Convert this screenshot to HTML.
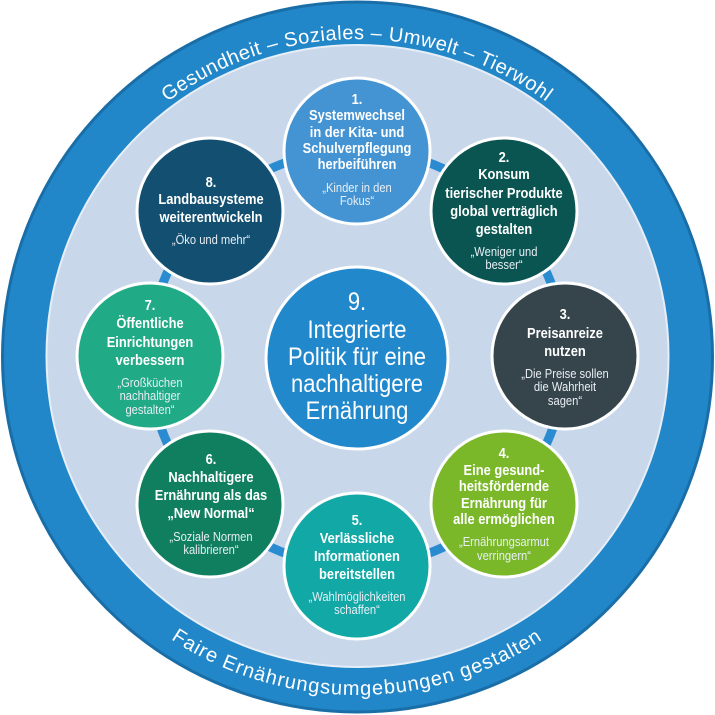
<!DOCTYPE html>
<html><head><meta charset="utf-8"><style>
html,body{margin:0;padding:0;background:#fff;width:715px;height:715px;overflow:hidden}
svg{display:block}
.t{font-family:"Liberation Sans Narrow","Liberation Sans",sans-serif;font-weight:bold;font-size:15px;fill:#fff;text-anchor:middle}
.q{font-family:"Liberation Sans Narrow","Liberation Sans",sans-serif;font-size:13px;fill:#e8eef4;text-anchor:middle}
.c{font-family:"Liberation Sans Narrow","Liberation Sans",sans-serif;font-size:25px;fill:#fff;text-anchor:middle}
.r{font-family:"Liberation Sans","DejaVu Sans",sans-serif;font-size:20px;fill:#fff;letter-spacing:0.5px}
</style></head><body>
<svg width="715" height="715" viewBox="0 0 715 715" xmlns="http://www.w3.org/2000/svg">
<defs>
<path id="top" d="M 39 357 A 318 318 0 0 1 675 357"/>
<path id="bot" d="M 19 357 A 338 338 0 0 0 695 357"/>
</defs>
<circle cx="357.5" cy="357" r="355" fill="#2287c9" stroke="#1a6ea8" stroke-width="3"/>
<circle cx="357.5" cy="356" r="311" fill="#c9d7ea" stroke="#e6eef7" stroke-width="2"/>
<text class="r"><textPath href="#top" startOffset="50%" text-anchor="middle">Gesundheit – Soziales – Umwelt – Tierwohl</textPath></text>
<text class="r" style="letter-spacing:1px"><textPath href="#bot" startOffset="50%" text-anchor="middle">Faire Ernährungsumgebungen gestalten</textPath></text>
<circle cx="357" cy="358" r="208" fill="none" stroke="#2a8bd0" stroke-width="9"/>
<g stroke="#fff" stroke-width="3">
<circle cx="357" cy="358" r="91" fill="#2288cc"/>
<circle cx="357" cy="151" r="73" fill="#4494d4"/>
<circle cx="504" cy="211" r="73" fill="#0a5552"/>
<circle cx="565" cy="356" r="73" fill="#36454c"/>
<circle cx="504" cy="504" r="73" fill="#7ab82a"/>
<circle cx="357" cy="566" r="73" fill="#11a8a6"/>
<circle cx="210" cy="504" r="73" fill="#0f7f60"/>
<circle cx="150" cy="356" r="73" fill="#20aa85"/>
<circle cx="210" cy="211" r="73" fill="#134f70"/>
</g>
<!-- 1 -->
<g transform="translate(357,0) scale(0.86,1) translate(-357,0)">
<text class="t" x="357" y="104">1.</text>
<text class="t" x="357" y="120">Systemwechsel</text>
<text class="t" x="357" y="137">in der Kita-  und</text>
<text class="t" x="357" y="153">Schulverpflegung</text>
<text class="t" x="357" y="169">herbeiführen</text>
<text class="q" x="357" y="192">„Kinder in den</text>
<text class="q" x="357" y="205">Fokus“</text>
</g>
<!-- 2 -->
<g transform="translate(504,0) scale(0.86,1) translate(-504,0)">
<text class="t" x="504" y="162">2.</text>
<text class="t" x="504" y="179">Konsum</text>
<text class="t" x="504" y="198">tierischer Produkte</text>
<text class="t" x="504" y="216">global verträglich</text>
<text class="t" x="504" y="234">gestalten</text>
<text class="q" x="504" y="256">„Weniger und</text>
<text class="q" x="504" y="269">besser“</text>
</g>
<!-- 3 -->
<g transform="translate(565,0) scale(0.86,1) translate(-565,0)">
<text class="t" x="565" y="319">3.</text>
<text class="t" x="565" y="338">Preisanreize</text>
<text class="t" x="565" y="356">nutzen</text>
<text class="q" x="565" y="378">„Die Preise sollen</text>
<text class="q" x="565" y="391">die Wahrheit</text>
<text class="q" x="565" y="405">sagen“</text>
</g>
<!-- 4 -->
<g transform="translate(504,0) scale(0.86,1) translate(-504,0)">
<text class="t" x="504" y="458">4.</text>
<text class="t" x="504" y="475">Eine gesund-</text>
<text class="t" x="504" y="491">heitsfördernde</text>
<text class="t" x="504" y="508">Ernährung für</text>
<text class="t" x="504" y="524">alle ermöglichen</text>
<text class="q" x="504" y="546">„Ernährungsarmut</text>
<text class="q" x="504" y="560">verringern“</text>
</g>
<!-- 5 -->
<g transform="translate(357,0) scale(0.86,1) translate(-357,0)">
<text class="t" x="357" y="525">5.</text>
<text class="t" x="357" y="543">Verlässliche</text>
<text class="t" x="357" y="561">Informationen</text>
<text class="t" x="357" y="579">bereitstellen</text>
<text class="q" x="357" y="601">„Wahlmöglichkeiten</text>
<text class="q" x="357" y="614">schaffen“</text>
</g>
<!-- 6 -->
<g transform="translate(211,0) scale(0.86,1) translate(-211,0)">
<text class="t" x="211" y="464">6.</text>
<text class="t" x="211" y="482">Nachhaltigere</text>
<text class="t" x="211" y="500">Ernährung als das</text>
<text class="t" x="211" y="518">„New Normal“</text>
<text class="q" x="211" y="541">„Soziale Normen</text>
<text class="q" x="211" y="554">kalibrieren“</text>
</g>
<!-- 7 -->
<g transform="translate(150,0) scale(0.86,1) translate(-150,0)">
<text class="t" x="150" y="310">7.</text>
<text class="t" x="150" y="328">Öffentliche</text>
<text class="t" x="150" y="347">Einrichtungen</text>
<text class="t" x="150" y="365">verbessern</text>
<text class="q" x="150" y="387">„Großküchen</text>
<text class="q" x="150" y="400">nachhaltiger</text>
<text class="q" x="150" y="414">gestalten“</text>
</g>
<!-- 8 -->
<g transform="translate(211,0) scale(0.86,1) translate(-211,0)">
<text class="t" x="211" y="187">8.</text>
<text class="t" x="211" y="204">Landbausysteme</text>
<text class="t" x="211" y="222">weiterentwickeln</text>
<text class="q" x="211" y="244">„Öko und mehr“</text>
</g>
<!-- 9 -->
<g transform="translate(357,0) scale(0.88,1) translate(-357,0)">
<text class="c" x="357" y="310">9.</text>
<text class="c" x="357" y="338">Integrierte</text>
<text class="c" x="357" y="365">Politik für eine</text>
<text class="c" x="357" y="392">nachhaltigere</text>
<text class="c" x="357" y="419">Ernährung</text>
</g>
</svg>
</body></html>
